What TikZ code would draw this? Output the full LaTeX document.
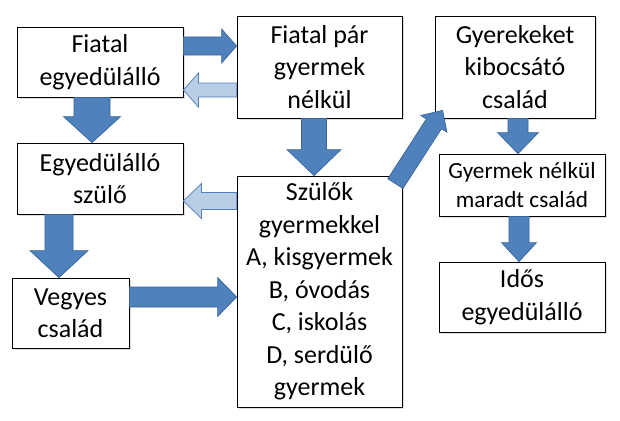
\documentclass[tikz,border=0pt]{standalone}
\usepackage{fontspec}
\setmainfont{Carlito}
\usetikzlibrary{calc,shadows}
\definecolor{arrowblue}{HTML}{4F81BD}
\definecolor{arrowedge}{HTML}{3A6496}
\definecolor{lightblue}{HTML}{B9CDE5}
% block arrow: [style]{start}{end}{half shaft}{half head}{head length}
\newcommand{\blockarrow}[6][dark]{%
  \coordinate (ba-base) at ($(#3)!#6!(#2)$);
  \draw[#1] ($(#2)!#4!90:(#3)$) -- ($(ba-base)!#4!90:(#3)$)
    -- ($(ba-base)!#5!90:(#3)$) -- (#3) -- ($(ba-base)!#5!-90:(#3)$)
    -- ($(ba-base)!#4!-90:(#3)$) -- ($(#2)!#4!-90:(#3)$) -- cycle;
}
\begin{document}
\begin{tikzpicture}[x=1pt, y=-1pt,
    box/.style={draw, fill=white, align=center, inner sep=0pt, line width=0.8pt,
      drop shadow={shadow xshift=1.5pt, shadow yshift=-1.5pt, opacity=0.25},
      font=\fontsize{26}{32.5}\selectfont},
    smallbox/.style={box, font=\fontsize{23.2}{29.5}\selectfont},
    dark/.style={fill=arrowblue, draw=arrowedge, line width=0.7pt},
    light/.style={fill=lightblue, draw=arrowblue, line width=0.7pt}]
    \useasboundingbox (0,0) rectangle (620,420);
    % Left column
    \node[box, minimum width=166pt, minimum height=70pt] (fe) at (100, 62)    {Fiatal\\egyedülálló};
    \node[box, minimum width=166pt, minimum height=71pt] (es) at (100, 178.5) {Egyedülálló\\szülő};
    \node[box, minimum width=117pt, minimum height=70pt] (vc) at (70.5, 313)  {Vegyes\\család};
    % Middle column
    \node[box, minimum width=165pt, minimum height=102pt] (fp) at (319.5, 67)    {Fiatal pár\\gyermek\\nélkül};
    \node[box, minimum width=165pt, minimum height=231pt] (sz) at (319.5, 291.5) {Szülők\\gyermekkel\\A, kisgyermek\\B, óvodás\\C, iskolás\\D, serdülő\\gyermek};
    % Right column
    \node[box, minimum width=160pt, minimum height=102pt] (gk) at (515, 67)  {Gyerekeket\\kibocsátó\\család};
    \node[smallbox, minimum width=166pt, minimum height=62pt] (gn) at (522, 185) {Gyermek nélkül\\maradt család};
    \node[box, minimum width=166pt, minimum height=70pt] (ie) at (522, 297) {Idős\\egyedülálló};
    % Arrow end points
    \coordinate (a1) at ([yshift=16pt]fe.east);
    \coordinate (b1) at (fp.west |- a1);
    \coordinate (a2) at ([yshift=-23pt]fp.west);
    \coordinate (b2) at (fe.east |- a2);
    \coordinate (a3) at ([xshift=-8pt]fe.south);
    \coordinate (b3) at (es.north -| a3);
    \coordinate (a4) at ([xshift=-5.5pt]fp.south);
    \coordinate (b4) at (sz.north -| a4);
    \coordinate (a5) at ([yshift=90.5pt]sz.west);
    \coordinate (b5) at (es.east |- a5);
    \coordinate (a6) at ([xshift=-41pt]es.south);
    \coordinate (b6) at (vc.north -| a6);
    \coordinate (a7) at ([yshift=16pt]vc.east);
    \coordinate (b7) at (sz.west |- a7);
    \coordinate (a8) at ([shift={(-7pt,-8pt)}]sz.north east);
    \coordinate (b8) at ([shift={(8pt,8pt)}]gk.south west);
    \coordinate (a9) at ([xshift=3pt]gk.south);
    \coordinate (b9) at (gn.north -| a9);
    \coordinate (a10) at ([xshift=-3pt]gn.south);
    \coordinate (b10) at (ie.north -| a10);
    % Block arrows
    \blockarrow{a1}{b1}{9pt}{17pt}{15pt}
    \blockarrow[light]{a2}{b2}{7pt}{17pt}{15pt}
    \blockarrow{a3}{b3}{18pt}{28.5pt}{26pt}
    \blockarrow{a4}{b4}{12.5pt}{27pt}{26pt}
    \blockarrow[light]{a5}{b5}{8.5pt}{17.5pt}{18pt}
    \blockarrow{a6}{b6}{14pt}{29pt}{27pt}
    \blockarrow{a7}{b7}{10pt}{19.5pt}{19pt}
    \blockarrow{a8}{b8}{9pt}{15.5pt}{16pt}
    \blockarrow{a9}{b9}{10pt}{20.5pt}{21pt}
    \blockarrow{a10}{b10}{10pt}{17.5pt}{19pt}
\end{tikzpicture}
\end{document}
